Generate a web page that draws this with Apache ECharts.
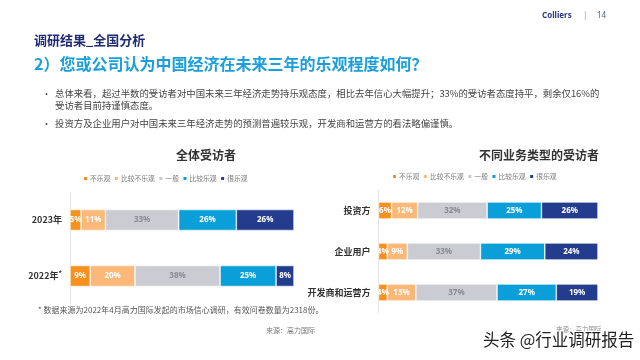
<!DOCTYPE html>
<html><head><meta charset="utf-8">
<script src="https://cdn.jsdelivr.net/npm/echarts@6/dist/echarts.min.js"></script>
<style>html,body{margin:0;padding:0;background:#fff}#c{width:640px;height:360px}</style>
</head><body><div id="c"></div>
<script>
const seriesNames = ['不乐观','比较不乐观','一般','比较乐观','很乐观'];
const colors = ['#f7901e','#fbb878','#cbcbd3','#0a9fd9','#233c8e'];
const labelColors = ['#fff','#fff','#8a8a90','#fff','#fff'];

const leftCategories = ['2023年','2022年{s|*}'];
const leftValues = [
  [5, 9],    // 不乐观
  [11, 20],  // 比较不乐观
  [33, 38],  // 一般
  [26, 25],  // 比较乐观
  [26, 8]    // 很乐观
];
const rightCategories = ['投资方','企业用户','开发商和运营方'];
const rightValues = [
  [6, 4, 4],
  [12, 9, 13],
  [32, 33, 37],
  [25, 29, 27],
  [26, 24, 19]
];

function build(values, gridIndex, barWidth){
  const n = values[0].length;
  const sums = [];
  for(let j=0;j<n;j++){let s=0;for(let i=0;i<values.length;i++) s+=values[i][j];sums.push(s);}
  return values.map((arr,i)=>({
    name: seriesNames[i], type:'bar', stack:'s'+gridIndex,
    xAxisIndex: gridIndex, yAxisIndex: gridIndex, barWidth: barWidth,
    itemStyle:{color: colors[i], borderColor:'#fff', borderWidth:0.6},
    label:{show:true, position:'inside', color: labelColors[i], fontSize:8, fontWeight:'bold',
      fontFamily:'Noto Sans', formatter: p => p.data.raw + '%'},
    emphasis:{disabled:true},
    data: arr.map((v,j)=>({value: v/sums[j]*100, raw: v}))
  }));
}

const chart = echarts.init(document.getElementById('c'), null, {renderer:'canvas'});
const cjk = '"Noto Sans CJK SC", "Noto Sans", sans-serif';
const legendCommon = {
  data: seriesNames, itemWidth:5, itemHeight:5, itemGap:2.5, padding:0,
  icon:'rect', selectedMode:false,
  textStyle:{fontSize:6.8, color:'#7a7a7a', fontFamily:cjk, padding:[0,0,0,-3]}
};
const yAxisCommon = {
  type:'category', inverse:true,
  axisLine:{show:true, lineStyle:{color:'#e6e6e6', width:1}},
  axisTick:{show:false},
  axisLabel:{fontSize:9, fontWeight:'bold', color:'#333', fontFamily:cjk, margin:8,
    rich:{s:{fontSize:7, verticalAlign:'top', color:'#333', padding:[0,0,6,0]}}}
};
chart.setOption({
  animation:false,
  textStyle:{fontFamily:cjk},
  legend:[
    Object.assign({left:82, top:175}, legendCommon),
    Object.assign({left:391, top:173}, legendCommon)
  ],
  grid:[
    {left:70, top:192, width:224, height:112},
    {left:378.5, top:190, width:219.5, height:123}
  ],
  xAxis:[
    {type:'value', gridIndex:0, min:0, max:100, show:false},
    {type:'value', gridIndex:1, min:0, max:100, show:false}
  ],
  yAxis:[
    Object.assign({gridIndex:0, data: leftCategories}, yAxisCommon),
    Object.assign({gridIndex:1, data: rightCategories}, yAxisCommon)
  ],
  series: build(leftValues,0,21).concat(build(rightValues,1,17)),
  graphic:[
    {type:'text', left:542, top:12, style:{text:'Colliers', fontSize:8, fontWeight:'bold', fill:'#2a3a86', fontFamily:'Noto Sans'}},
    {type:'text', left:583, top:12, style:{text:'|', fontSize:8, fill:'#9aa0c0', fontFamily:'Noto Sans'}},
    {type:'text', left:597, top:12, style:{text:'14', fontSize:8, fill:'#555d8a', fontFamily:'Noto Sans'}},
    {type:'text', left:34, top:34, style:{text:'调研结果_全国分析', fontSize:13, fontWeight:'bold', fill:'#1f2b73', fontFamily:cjk}},
    {type:'text', left:34, top:56, style:{text:'2）您或公司认为中国经济在未来三年的乐观程度如何？', fontSize:16, fontWeight:'bold', fill:'#1b9fdb', fontFamily:cjk}},
    {type:'text', left:42, top:89, style:{text:'•', fontSize:9, fill:'#555', fontFamily:cjk}},
    {type:'text', left:55, top:89, style:{text:'总体来看，超过半数的受访者对中国未来三年经济走势持乐观态度，相比去年信心大幅提升；33%的受访者态度持平，剩余仅16%的', fontSize:9.4, fill:'#444', fontFamily:cjk}},
    {type:'text', left:55, top:101, style:{text:'受访者目前持谨慎态度。', fontSize:9.4, fill:'#444', fontFamily:cjk}},
    {type:'text', left:42, top:119, style:{text:'•', fontSize:9, fill:'#555', fontFamily:cjk}},
    {type:'text', left:55, top:119, style:{text:'投资方及企业用户对中国未来三年经济走势的预测普遍较乐观，开发商和运营方的看法略偏谨慎。', fontSize:9.4, fill:'#444', fontFamily:cjk}},
    {type:'text', left:176, top:149, style:{text:'全体受访者', fontSize:12, fontWeight:'bold', fill:'#333', fontFamily:cjk, align:'center', verticalAlign:'middle'}},
    {type:'text', left:479, top:149, style:{text:'不同业务类型的受访者', fontSize:12, fontWeight:'bold', fill:'#333', fontFamily:cjk, align:'center', verticalAlign:'middle'}},
    {type:'text', left:38, top:306, style:{text:'* 数据来源为2022年4月高力国际发起的市场信心调研，有效问卷数量为2318份。', fontSize:8, fill:'#555', fontFamily:cjk}},
    {type:'text', left:266, top:327, style:{text:'来源：高力国际', fontSize:7, fill:'#777', fontFamily:cjk}},
    {type:'text', left:556, top:326, style:{text:'来源：高力国际', fontSize:6.5, fill:'#888', fontFamily:cjk}},
    {type:'text', left:482, top:330, style:{text:'头条 @行业调研报告', fontSize:16.5, fill:'#222', fontFamily:cjk, stroke:'#fff', lineWidth:2}}
  ]
});
</script></body></html>
